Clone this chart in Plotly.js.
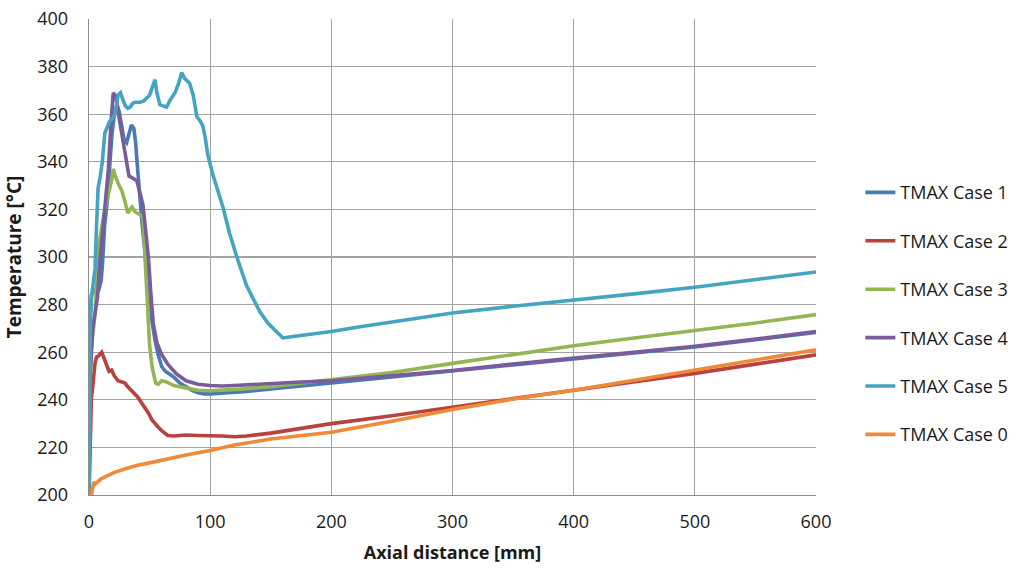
<!DOCTYPE html>
<html>
<head>
<meta charset="utf-8">
<script src="https://cdn.plot.ly/plotly-3.0.1.min.js"></script>
<style>html,body{margin:0;padding:0;background:#fff;}#chart{width:1028px;height:574px;}</style>
</head>
<body>
<div id="chart"></div>
<script>
const seriesNames = ["TMAX Case 1", "TMAX Case 2", "TMAX Case 3", "TMAX Case 4", "TMAX Case 5", "TMAX Case 0"];
const seriesColors = ["#4a7ab6", "#b9423f", "#93b553", "#7a5c9c", "#45a5c0", "#ef8a38"];

const xCase1 = [0, 1, 2, 4, 6, 8, 9, 10, 11, 12, 13, 15, 17, 19, 21, 23, 25, 27, 29, 31, 33, 35, 37, 38.5, 39.5, 40.5, 42, 44, 46, 48, 50, 52, 54.5, 57, 60, 63, 66, 70, 75, 80, 85, 90, 95, 100, 110, 120, 130, 140, 150, 175, 200, 250, 300, 350, 400, 450, 500, 550, 600];
const tCase1 = [200, 276, 284, 286, 285, 286, 288, 290, 296, 305, 314, 323, 338, 352, 360, 364, 361, 355, 349, 348, 352, 355.5, 354, 348, 341, 332, 325, 313, 302, 294, 283, 273, 265, 259, 254, 252, 251, 249.5, 247, 245.5, 244, 243, 242.5, 242.5, 242.8, 243, 243.5, 244, 244.5, 245.8, 247.2, 249.5, 252, 254.6, 257.2, 259.8, 262.2, 265.2, 268.3];

const xCase2 = [0, 1, 1.5, 2, 3, 4, 5, 6.3, 8, 10.5, 12.5, 14.6, 16.5, 18.7, 21, 24, 27, 29.7, 32, 35, 38, 40.5, 43, 46, 49, 52, 55, 57, 60, 63, 65, 70, 80, 90, 100, 110, 120, 130, 150, 175, 200, 250, 300, 350, 400, 450, 500, 550, 600];
const tCase2 = [200, 225, 237, 241, 245, 250, 255.5, 258, 258.5, 260, 257, 254.6, 252, 252.5, 250, 248, 247.5, 247, 245.5, 244, 242.5, 241, 239, 237, 234.5, 231.5, 229.5, 228.6, 227, 226, 225, 224.8, 225.2, 225, 225, 224.8, 224.5, 224.8, 226, 228, 230, 233.3, 237, 240.5, 244, 247.5, 251.1, 255, 258.9];

const xCase3 = [0, 1, 2, 3, 5, 7.5, 9.5, 11.5, 14, 17, 19, 20, 21, 24, 27, 30, 32, 34, 35.5, 38, 40, 42, 44.5, 46, 48, 50, 52, 55, 57, 60, 64, 70, 80, 90, 100, 110, 125, 150, 175, 200, 250, 300, 350, 400, 450, 500, 550, 600];
const tCase3 = [200, 250, 262, 268, 276, 303, 310, 315.5, 322, 328, 333, 337, 335, 331, 328, 322.7, 318.5, 320, 321, 319, 318.5, 318, 317, 302, 281, 263, 254, 247, 246.5, 248, 247.5, 246, 245, 244, 243.8, 244, 244.5, 245.5, 247, 248.3, 251.5, 255.3, 259, 262.7, 266, 269.1, 272.3, 275.8];

const xCase4 = [0, 1, 3, 5, 7, 9, 11, 13, 15, 16, 18, 20, 21.5, 23, 25, 27, 29, 31, 33, 35, 37, 39.5, 41, 43, 44.5, 47, 49, 51, 53, 56, 60, 65, 72, 80, 90, 100, 110, 120, 135, 150, 175, 200, 250, 300, 350, 400, 450, 500, 550, 600];
const tCase4 = [200, 250, 270, 276, 283, 298, 310, 323, 332, 337, 355, 369, 368, 365, 358, 352, 345, 338, 334, 333.5, 333, 332, 329, 325, 322, 310, 300, 285, 272, 264, 259, 255, 251, 248, 246.5, 246, 245.8, 246, 246.5, 247, 247.5, 248, 250, 252.3, 255, 257.5, 260, 262.5, 265.5, 268.7];

const xCase5 = [0, 0.5, 1, 2, 3, 4, 5, 6, 7.5, 9, 11, 13, 15, 17, 19, 21.5, 24, 26, 28, 30, 32, 34, 36, 38, 42, 45, 48, 50, 52, 54.5, 56, 58.5, 61, 64, 67, 71, 74, 76.5, 79, 83, 86, 89, 92, 94, 96, 98, 102, 106, 110.5, 116, 122, 130, 135, 141, 148, 154, 160, 167, 174, 185, 200, 225, 250, 275, 300, 350, 400, 450, 500, 550, 600];
const tCase5 = [200, 240, 270, 283, 287, 290, 295, 310, 329, 333, 340, 352, 355, 357, 358, 360, 368, 369, 366, 363.5, 362.5, 363, 364.5, 365, 365, 365.5, 367, 368, 371, 374.5, 369, 364, 363.5, 363, 366, 369, 373, 377.5, 375, 373, 368, 359, 357, 355, 350, 343, 335, 328, 321, 310, 300, 288, 283, 277, 272, 269, 266, 266.5, 267, 267.5, 268.7, 270.8, 272.8, 274.6, 276.5, 279.3, 281.8, 284.5, 287.3, 290.5, 293.7];

const xCase0 = [0, 2, 3, 4, 5, 6, 8, 10, 15, 20, 30, 40, 50, 63, 80, 100, 120, 150, 175, 200, 250, 300, 350, 400, 450, 500, 550, 600];
const tCase0 = [200, 200, 203, 205.5, 204.5, 205, 206, 206.8, 208, 209.3, 211, 212.5, 213.5, 215, 216.8, 218.7, 221, 223.5, 225, 226.4, 231, 235.9, 240.3, 244, 248.2, 252.5, 256.8, 261];

const xTicks = [0, 100, 200, 300, 400, 500, 600];
const yTicks = [200, 220, 240, 260, 280, 300, 320, 340, 360, 380, 400];

const xs = [xCase1, xCase2, xCase3, xCase4, xCase5, xCase0];
const ts = [tCase1, tCase2, tCase3, tCase4, tCase5, tCase0];

const traces = seriesNames.map((n, i) => ({
  x: xs[i], y: ts[i], name: n, type: 'scatter', mode: 'lines',
  legendgroup: 'g' + i,
  line: {color: seriesColors[i], width: 3.6, shape: 'linear'}
}));

const font = "'Open Sans', 'DejaVu Sans', sans-serif";
const layout = {
  width: 1028, height: 574,
  margin: {l: 89, r: 212, t: 19, b: 79},
  paper_bgcolor: '#fff', plot_bgcolor: '#fff',
  font: {family: font, size: 18, color: '#1a1a1a'},
  showlegend: true,
  legend: {x: 1.061, xanchor: 'left', y: 0.674, yanchor: 'top', tracegroupgap: 22,
    font: {family: font, size: 18, color: '#1a1a1a'}, bgcolor: 'rgba(0,0,0,0)'},
  xaxis: {
    range: [0, 600], tickvals: xTicks, ticktext: xTicks.map(String),
    showgrid: true, gridcolor: '#a3a3a3', gridwidth: 1.3,
    showline: true, linecolor: '#8c8c8c', linewidth: 1.3, mirror: false,
    zeroline: false, ticks: '', ticklabelstandoff: 10,
    title: {text: '<b>Axial distance [mm]</b>', font: {family: font, size: 18, color: '#1a1a1a'}, standoff: 14}
  },
  yaxis: {
    range: [200, 400], tickvals: yTicks, ticktext: yTicks.map(String),
    showgrid: true, gridcolor: '#a3a3a3', gridwidth: 1.3,
    showline: true, linecolor: '#8c8c8c', linewidth: 1.3,
    zeroline: false, ticks: '', ticklabelstandoff: 16,
    title: {text: '<b>Temperature [°C]</b>', font: {family: font, size: 19, color: '#1a1a1a'}, standoff: 10}
  }
};

Plotly.newPlot('chart', traces, layout, {displayModeBar: false, staticPlot: true});
</script>
</body>
</html>
